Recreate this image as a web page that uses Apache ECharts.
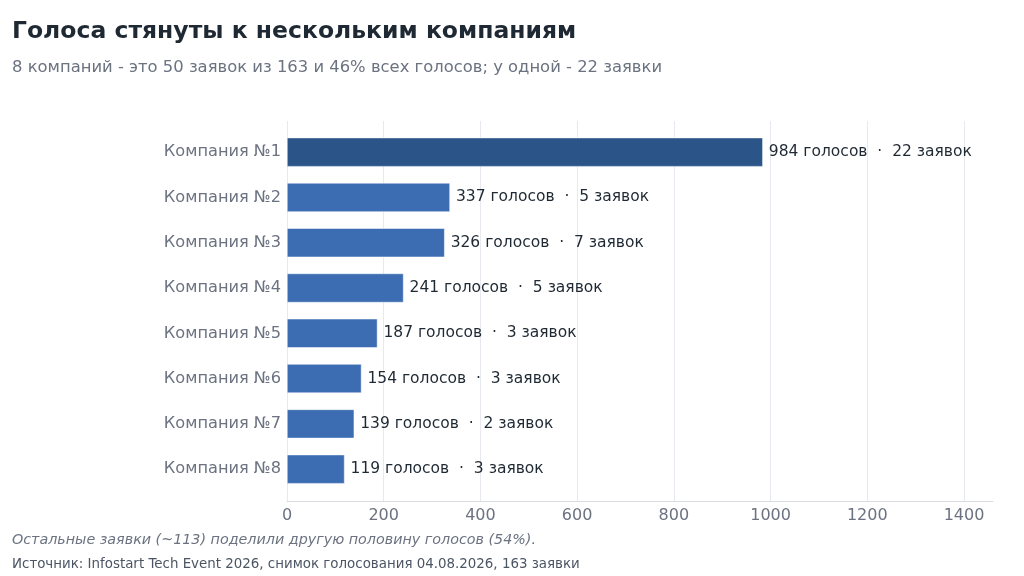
<!DOCTYPE html>
<html>
<head>
<meta charset="utf-8">
<script src="https://cdn.jsdelivr.net/npm/echarts@6/dist/echarts.min.js"></script>
<style>
  html, body { margin: 0; padding: 0; background: #fff; }
  #chart { width: 1024px; height: 576px; }
</style>
</head>
<body>
<div id="chart"></div>
<script>
// данные
var companies = ['Компания №1', 'Компания №2', 'Компания №3', 'Компания №4',
                 'Компания №5', 'Компания №6', 'Компания №7', 'Компания №8'];
var votes = [984, 337, 326, 241, 187, 154, 139, 119];
var applications = [22, 5, 7, 5, 3, 3, 2, 3];
var xTicks = [0, 200, 400, 600, 800, 1000, 1200, 1400];

var font = 'DejaVu Sans';
var xMax = 1460;

var barData = votes.map(function (v, i) {
    return {
        value: v,
        itemStyle: { color: i === 0 ? '#2b5588' : '#3c6db3' }
    };
});

var option = {
    backgroundColor: '#ffffff',
    textStyle: { fontFamily: font },
    title: [{
        text: 'Голоса стянуты к нескольким компаниям',
        left: 12, top: 20, padding: 0,
        textStyle: { fontFamily: font, fontSize: 23.5, fontWeight: 'bold', color: '#1f2933' }
    }, {
        text: '8 компаний - это 50 заявок из 163 и 46% всех голосов; у одной - 22 заявки',
        left: 12, top: 59.5, padding: 0,
        textStyle: { fontFamily: font, fontSize: 16.4, fontWeight: 'normal', color: '#6b7280' }
    }, {
        text: 'Остальные заявки (~113) поделили другую половину голосов (54%).',
        left: 12, top: 533, padding: 0,
        textStyle: { fontFamily: font, fontSize: 14.3, fontStyle: 'italic', fontWeight: 'normal', color: '#6b7280' }
    }, {
        text: 'Источник: Infostart Tech Event 2026, снимок голосования 04.08.2026, 163 заявки',
        left: 12, top: 558.5, padding: 0,
        textStyle: { fontFamily: font, fontSize: 13.4, fontWeight: 'normal', color: '#4b5563' }
    }],
    grid: [
        // бары
        { left: 287, right: 31, top: 129.5, bottom: 84.2 },
        // сетка и ось
        { left: 287, right: 31, top: 121, bottom: 75 }
    ],
    xAxis: [{
        gridIndex: 0, type: 'value', min: 0, max: xMax, show: false
    }, {
        gridIndex: 1, type: 'value', min: 0, max: xMax, interval: 200,
        axisLine: { show: true, lineStyle: { color: '#d9dce1', width: 1 } },
        axisTick: { show: false },
        axisLabel: {
            color: '#6b7280', fontSize: 16, fontFamily: font, margin: 7,
            showMaxLabel: false,
            formatter: function (v) { return xTicks.indexOf(v) >= 0 ? String(v) : ''; }
        },
        splitLine: { show: true, showMaxLine: false, lineStyle: { color: '#e8e9ee', width: 1 } }
    }],
    yAxis: [{
        gridIndex: 0, type: 'category', inverse: true, data: companies,
        axisLine: { show: false },
        axisTick: { show: false },
        axisLabel: { color: '#6b7280', fontSize: 16.2, fontFamily: font, margin: 6, padding: [4, 0, 0, 0] }
    }, {
        gridIndex: 1, type: 'value', min: 0, max: 1, show: false
    }],
    series: [{
        type: 'bar',
        xAxisIndex: 0, yAxisIndex: 0,
        data: barData,
        barWidth: '64%',
        itemStyle: { borderColor: '#ffffff', borderWidth: 0.5 },
        label: {
            show: true,
            position: 'right',
            distance: 6,
            color: '#1f2933',
            fontSize: 15.5,
            fontFamily: font,
            formatter: function (p) {
                return votes[p.dataIndex] + ' голосов  ·  ' + applications[p.dataIndex] + ' заявок';
            }
        },
        silent: true,
        z: 3
    }],
    animation: false
};

var myChart = echarts.init(document.getElementById('chart'));
myChart.setOption(option);
</script>
</body>
</html>
